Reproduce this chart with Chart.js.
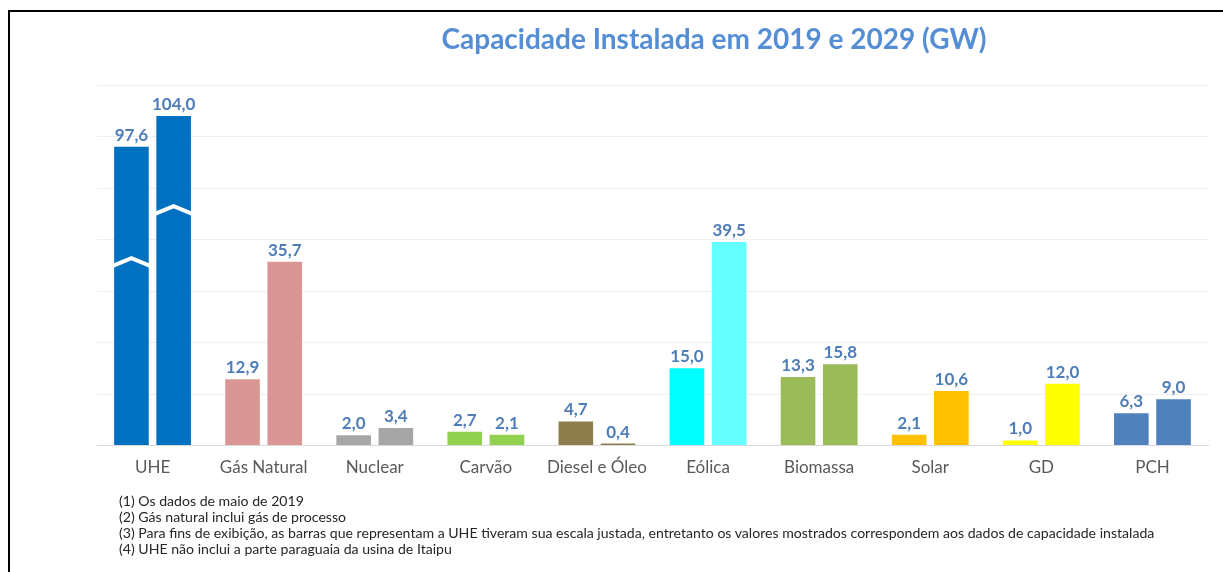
<!DOCTYPE html>
<html>
<head>
<meta charset="utf-8">
<script src="https://cdn.jsdelivr.net/npm/chart.js@4"></script>
<style>
  body { margin: 0; background: #fff; }
  #wrap { position: relative; width: 1223px; height: 572px; overflow: hidden; }
  #frame { position: absolute; left: 8px; top: 10px; width: 1400px; height: 800px;
           border-left: 2px solid #000; border-top: 2px solid #000; }
  #chart { position: absolute; left: 0; top: 0; }
  #notes { position: absolute; left: 119px; top: 493px; font-family: Lato, sans-serif;
           font-size: 14.1px; line-height: 16px; color: #262626; }
</style>
</head>
<body>
<div id="wrap">
  <div id="frame"></div>
  <canvas id="chart" width="1223" height="572"></canvas>
  <div id="notes">
    <div>(1) Os dados de maio de 2019</div>
    <div>(2) Gás natural inclui gás de processo</div>
    <div>(3) Para fins de exibição, as barras que representam a UHE tiveram sua escala justada, entretanto os valores mostrados correspondem aos dados de capacidade instalada</div>
    <div>(4) UHE não inclui a parte paraguaia da usina de Itaipu</div>
  </div>
</div>
<script>
const categories = ["UHE", "Gás Natural", "Nuclear", "Carvão", "Diesel e Óleo", "Eólica", "Biomassa", "Solar", "GD", "PCH"];
const cap2019 = [97.6, 12.9, 2.0, 2.7, 4.7, 15.0, 13.3, 2.1, 1.0, 6.3];
const cap2029 = [104.0, 35.7, 3.4, 2.1, 0.4, 39.5, 15.8, 10.6, 12.0, 9.0];
// UHE bars are drawn on an adjusted scale (note 3)
const uheDrawn = [58, 64];
const uheBreakAt = [35.6, 45.7];
const colors2019 = ["#0070C0", "#D99694", "#A6A6A6", "#92D050", "#8E7D4D", "#00FFFF", "#9BBB59", "#FFC000", "#FFFF00", "#4F81BD"];
const colors2029 = ["#0070C0", "#D99694", "#A6A6A6", "#92D050", "#8E7D4D", "#66FFFF", "#9BBB59", "#FFC000", "#FFFF00", "#4F81BD"];
const yTicks = [0, 10, 20, 30, 40, 50, 60, 70];

const drawn2019 = cap2019.slice(); drawn2019[0] = uheDrawn[0];
const drawn2029 = cap2029.slice(); drawn2029[0] = uheDrawn[1];
const shown = [cap2019, cap2029];

const extras = {
    id: "extras",
    afterDatasetsDraw(chart) {
        const ctx = chart.ctx;
        const y = chart.scales.y;
        ctx.save();
        // breaks on the UHE bars
        ctx.strokeStyle = "#fff";
        ctx.lineWidth = 4;
        [0, 1].forEach(d => {
            const el = chart.getDatasetMeta(d).data[0];
            const by = y.getPixelForValue(uheBreakAt[d]);
            const l = el.x - el.width / 2 - 2, r = el.x + el.width / 2 + 2;
            ctx.beginPath();
            ctx.moveTo(l, by + 4);
            ctx.lineTo(el.x, by - 4);
            ctx.lineTo(r, by + 4);
            ctx.stroke();
        });
        // value labels
        ctx.fillStyle = "#4F7DB8";
        ctx.font = "bold 17px Lato";
        ctx.textAlign = "center";
        ctx.textBaseline = "alphabetic";
        [0, 1].forEach(d => {
            chart.getDatasetMeta(d).data.forEach((el, i) => {
                ctx.fillText(shown[d][i].toFixed(1).replace(".", ","), el.x, el.y - 6);
            });
        });
        // title
        ctx.fillStyle = "#558ED5";
        ctx.font = "bold 28px Lato";
        ctx.textBaseline = "middle";
        ctx.fillText("Capacidade Instalada em 2019 e 2029 (GW)", 714, 40);
        ctx.restore();
    }
};

new Chart(document.getElementById("chart"), {
    type: "bar",
    data: {
        labels: categories,
        datasets: [
            { label: "2019", data: drawn2019, backgroundColor: colors2019 },
            { label: "2029", data: drawn2029, backgroundColor: colors2029 }
        ]
    },
    options: {
        responsive: false,
        animation: false,
        devicePixelRatio: 1,
        categoryPercentage: 0.76,
        barPercentage: 0.82,
        layout: { padding: { left: 97, right: 15, top: 85, bottom: 90 } },
        plugins: {
            legend: { display: false },
            title: { display: false },
            tooltip: { enabled: false }
        },
        scales: {
            x: {
                grid: { display: false },
                border: { display: true, color: "#D9D9D9", width: 1 },
                ticks: { color: "#595959", font: { family: "Lato", size: 17 }, padding: 4 }
            },
            y: {
                min: 0,
                max: 70,
                afterBuildTicks(axis) { axis.ticks = yTicks.map(v => ({ value: v })); },
                ticks: { display: false },
                grid: { color: "#EFEFEF", drawTicks: false },
                border: { display: false }
            }
        }
    },
    plugins: [extras]
});
</script>
</body>
</html>
